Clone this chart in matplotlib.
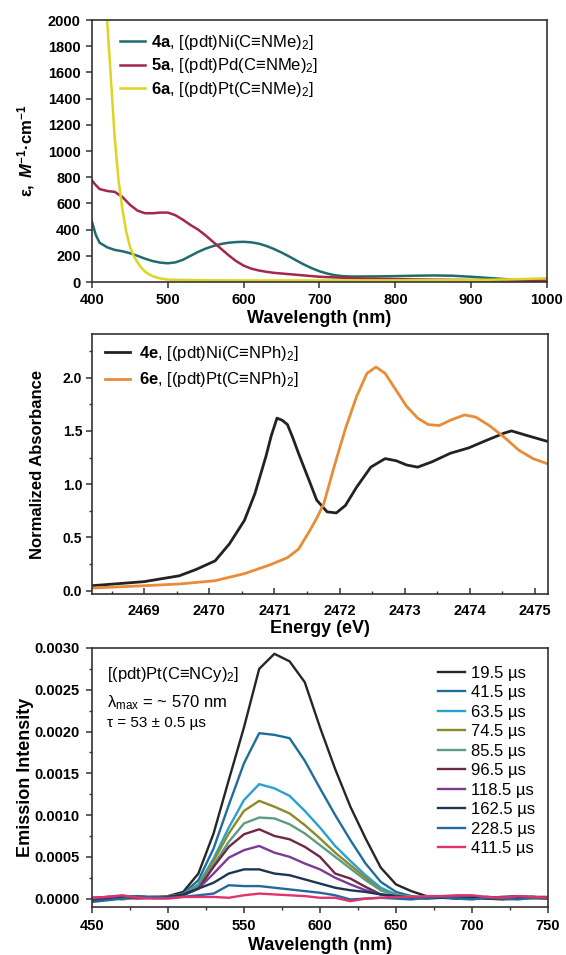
import matplotlib
matplotlib.use('Agg')
import matplotlib.pyplot as plt
from matplotlib.ticker import MultipleLocator, FormatStrFormatter

plt.rcParams['font.family'] = ['Liberation Sans', 'DejaVu Sans']
plt.rcParams['font.weight'] = 'bold'
plt.rcParams['mathtext.fontset'] = 'custom'
plt.rcParams['mathtext.rm'] = 'Liberation Sans:weight=normal'
plt.rcParams['mathtext.it'] = 'Liberation Sans:italic:weight=normal'
plt.rcParams['mathtext.bf'] = 'Liberation Sans:bold'
plt.rcParams['mathtext.bfit'] = 'Liberation Sans:italic:bold'

# ---------------- Panel 1: UV-vis ----------------
wl_ni = [400, 405, 410, 420, 430, 440, 450, 460, 470, 480, 490, 500, 510, 520, 530, 540, 550, 560,
         570, 580, 590, 600, 610, 620, 630, 640, 650, 660, 670, 680, 690, 700, 710, 720, 730, 740,
         750, 775, 800, 825, 850, 875, 900, 925, 950, 975, 1000]
eps_ni = [460, 360, 300, 265, 245, 235, 220, 200, 178, 160, 148, 143, 150, 170, 200, 230, 255, 275,
          290, 300, 305, 307, 303, 293, 275, 252, 225, 195, 163, 132, 105, 82, 65, 52, 45, 42,
          42, 43, 45, 48, 50, 48, 40, 30, 20, 13, 8]
wl_pd = [400, 405, 410, 420, 430, 440, 450, 460, 470, 480, 490, 500, 510, 520, 530, 540, 550, 560,
         570, 580, 590, 600, 610, 620, 630, 640, 650, 660, 670, 680, 690, 700, 750, 800, 850, 900,
         950, 1000]
eps_pd = [775, 740, 710, 695, 688, 650, 590, 545, 525, 525, 530, 530, 510, 475, 435, 400, 355, 305,
          255, 205, 160, 125, 102, 88, 78, 70, 65, 60, 55, 50, 45, 40, 28, 22, 18, 15,
          12, 10]
wl_pt = [400, 410, 420, 425, 430, 435, 440, 445, 450, 455, 460, 465, 470, 475, 480, 485, 490, 500,
         550, 600, 700, 800, 900, 950, 1000]
eps_pt = [5000, 3200, 2000, 1550, 1100, 780, 560, 390, 270, 200, 150, 110, 80, 60, 45, 35, 27, 18,
          13, 12, 12, 13, 15, 20, 28]
labels_uv = [r'$\mathbf{4a}$, [(pdt)Ni(C≡NMe)$_2$]',
             r'$\mathbf{5a}$, [(pdt)Pd(C≡NMe)$_2$]',
             r'$\mathbf{6a}$, [(pdt)Pt(C≡NMe)$_2$]']
colors_uv = ['#1f6b6e', '#a3284b', '#ddd523']

# ---------------- Panel 2: XAS ----------------
E_ni = [2468.2, 2469.0, 2469.54, 2469.8, 2470.09, 2470.31, 2470.54, 2470.7, 2470.87, 2470.95,
        2471.04, 2471.12, 2471.2, 2471.28, 2471.37, 2471.53, 2471.65, 2471.81, 2471.95, 2472.09,
        2472.26, 2472.48, 2472.7, 2472.87, 2473.03, 2473.2, 2473.42, 2473.7, 2473.98, 2474.25,
        2474.53, 2474.64, 2474.86, 2475.2]
A_ni = [0.047, 0.085, 0.14, 0.20, 0.28, 0.44, 0.66, 0.91, 1.26, 1.45,
        1.62, 1.60, 1.56, 1.44, 1.29, 1.04, 0.85, 0.74, 0.73, 0.80,
        0.97, 1.16, 1.24, 1.22, 1.18, 1.16, 1.21, 1.29, 1.34, 1.41,
        1.48, 1.50, 1.46, 1.40]
E_pt = [2468.2, 2469.0, 2469.54, 2470.09, 2470.54, 2470.92, 2471.2, 2471.37, 2471.53, 2471.65,
        2471.76, 2471.92, 2472.09, 2472.26, 2472.42, 2472.56, 2472.7, 2472.87, 2473.03, 2473.2,
        2473.36, 2473.53, 2473.7, 2473.92, 2474.09, 2474.3, 2474.53, 2474.75, 2474.97, 2475.2]
A_pt = [0.025, 0.047, 0.063, 0.094, 0.16, 0.24, 0.31, 0.39, 0.55, 0.68,
        0.82, 1.17, 1.52, 1.82, 2.04, 2.10, 2.04, 1.88, 1.73, 1.62,
        1.56, 1.55, 1.60, 1.65, 1.63, 1.55, 1.44, 1.32, 1.24, 1.19]
labels_xas = [r'$\mathbf{4e}$, [(pdt)Ni(C≡NPh)$_2$]',
              r'$\mathbf{6e}$, [(pdt)Pt(C≡NPh)$_2$]']
colors_xas = ['#222222', '#e88c38']

# ---------------- Panel 3: emission ----------------
wl_em = [450, 460, 470, 480, 490, 500, 510, 520, 530, 540, 550, 560, 570, 580, 590, 600,
         610, 620, 630, 640, 650, 660, 670, 680, 690, 700, 710, 720, 730, 740, 750]
em_19_5 = [0.00000, 0.00002, 0.00003, 0.00002, 0.00001, 0.00003, 0.00008, 0.00030, 0.00078, 0.00142,
           0.00205, 0.00275, 0.00293, 0.00284, 0.00259, 0.00205, 0.00155, 0.00110, 0.00072, 0.00037,
           0.00017, 0.00009, 0.00003, 0.00002, 0.00003, 0.00002, 0.00001, 0.00002, 0.00003, 0.00002, 0.00002]
em_41_5 = [-0.00002, 0.00000, 0.00002, 0.00003, 0.00001, 0.00002, 0.00006, 0.00022, 0.00060, 0.00112,
           0.00162, 0.00198, 0.00196, 0.00192, 0.00165, 0.00132, 0.00100, 0.00070, 0.00042, 0.00020,
           0.00008, 0.00003, 0.00001, 0.00002, 0.00000, 0.00001, 0.00002, 0.00000, 0.00001, 0.00002, 0.00001]
em_63_5 = [-0.00001, 0.00001, 0.00002, 0.00001, 0.00002, 0.00002, 0.00005, 0.00017, 0.00048, 0.00085,
           0.00118, 0.00137, 0.00132, 0.00123, 0.00105, 0.00085, 0.00063, 0.00045, 0.00028, 0.00013,
           0.00005, 0.00002, 0.00001, 0.00002, 0.00001, 0.00002, 0.00001, 0.00000, 0.00001, 0.00002, 0.00001]
em_74_5 = [0.00000, 0.00001, -0.00001, 0.00001, 0.00002, 0.00003, 0.00005, 0.00015, 0.00045, 0.00078,
           0.00105, 0.00117, 0.00110, 0.00102, 0.00088, 0.00072, 0.00055, 0.00040, 0.00025, 0.00010,
           0.00004, 0.00002, 0.00001, 0.00001, 0.00002, 0.00001, 0.00001, 0.00002, 0.00001, 0.00000, 0.00001]
em_85_5 = [0.00001, 0.00000, 0.00002, 0.00001, 0.00001, 0.00002, 0.00005, 0.00014, 0.00040, 0.00068,
           0.00090, 0.00097, 0.00096, 0.00089, 0.00078, 0.00064, 0.00050, 0.00036, 0.00022, 0.00010,
           0.00004, 0.00002, 0.00001, 0.00001, 0.00001, 0.00002, 0.00001, 0.00001, 0.00002, 0.00001, 0.00001]
em_96_5 = [0.00000, 0.00001, 0.00002, 0.00000, 0.00001, 0.00002, 0.00004, 0.00012, 0.00038, 0.00062,
           0.00077, 0.00083, 0.00075, 0.00071, 0.00062, 0.00050, 0.00030, 0.00024, 0.00014, 0.00005,
           0.00003, 0.00001, 0.00001, 0.00002, 0.00001, 0.00001, 0.00002, 0.00001, 0.00001, 0.00002, 0.00001]
em_118_5 = [0.00001, 0.00002, 0.00001, 0.00001, 0.00002, 0.00002, 0.00004, 0.00012, 0.00030, 0.00049,
            0.00058, 0.00063, 0.00055, 0.00050, 0.00042, 0.00035, 0.00025, 0.00017, 0.00010, 0.00005,
            0.00002, 0.00001, 0.00001, 0.00002, 0.00001, 0.00001, 0.00000, 0.00001, 0.00002, 0.00001, 0.00001]
em_162_5 = [-0.00003, -0.00001, 0.00001, 0.00002, 0.00001, 0.00002, 0.00005, 0.00012, 0.00019, 0.00030,
            0.00035, 0.00035, 0.00030, 0.00028, 0.00023, 0.00018, 0.00013, 0.00010, 0.00008, 0.00005,
            0.00003, 0.00001, 0.00000, 0.00001, 0.00000, 0.00001, 0.00000, -0.00001, 0.00000, 0.00001, 0.00000]
em_228_5 = [-0.00004, -0.00002, 0.00000, 0.00003, 0.00002, 0.00001, 0.00002, 0.00004, 0.00006, 0.00016,
            0.00015, 0.00015, 0.00013, 0.00011, 0.00009, 0.00007, 0.00004, -0.00001, 0.00000, 0.00001,
            0.00000, -0.00001, 0.00001, 0.00002, 0.00000, -0.00001, 0.00001, 0.00000, -0.00001, 0.00001, 0.00000]
em_411_5 = [0.00001, 0.00002, 0.00004, 0.00001, 0.00000, 0.00000, 0.00002, 0.00002, 0.00002, 0.00001,
            0.00004, 0.00006, 0.00005, 0.00004, 0.00003, 0.00001, 0.00001, -0.00003, 0.00000, 0.00001,
            0.00002, 0.00002, 0.00003, 0.00003, 0.00004, 0.00004, 0.00002, 0.00001, 0.00003, 0.00002, 0.00001]
em_series = [em_19_5, em_41_5, em_63_5, em_74_5, em_85_5, em_96_5, em_118_5, em_162_5, em_228_5, em_411_5]
em_labels = ['19.5 µs', '41.5 µs', '63.5 µs', '74.5 µs', '85.5 µs', '96.5 µs',
             '118.5 µs', '162.5 µs', '228.5 µs', '411.5 µs']
em_colors = ['#262626', '#1f6d9c', '#2aa0d2', '#8a8a2a', '#5b9c84', '#6e2845',
             '#7b3a95', '#1c3550', '#2567a0', '#e0336b']

SPINE = '#333333'

fig = plt.figure(figsize=(5.66, 9.55), dpi=100)
ax1 = fig.add_axes([0.1625, 0.7047, 0.8039, 0.2743])
ax2 = fig.add_axes([0.1625, 0.378, 0.8057, 0.2723])
ax3 = fig.add_axes([0.1625, 0.0503, 0.8057, 0.2712])

for ax in (ax1, ax2, ax3):
    for s in ax.spines.values():
        s.set_color(SPINE)
        s.set_linewidth(1.2)

# Panel 1
for x, y, c, l in zip([wl_ni, wl_pd, wl_pt], [eps_ni, eps_pd, eps_pt], colors_uv, labels_uv):
    ax1.plot(x, y, color=c, lw=1.8, label=l)
ax1.set_xlim(400, 1000)
ax1.set_ylim(0, 2000)
ax1.xaxis.set_major_locator(MultipleLocator(100))
ax1.yaxis.set_major_locator(MultipleLocator(200))
ax1.tick_params(direction='out', length=4, width=1.1, pad=4, labelsize=10.5, color=SPINE)
ax1.set_xlabel('Wavelength (nm)', fontsize=13, fontweight='bold')
ax1.set_ylabel(r'$\mathbf{ε,\ }\mathbfit{M}^{\mathbf{-1}}\mathbf{·cm}^{\mathbf{-1}}$', fontsize=12)
ax1.xaxis.set_label_coords(0.5, -0.105)
ax1.yaxis.set_label_coords(-0.12, 0.5)
ax1.legend(loc='upper left', bbox_to_anchor=(0.0615, 0.952), frameon=False, borderpad=0,
           borderaxespad=0, handlelength=1.5, handletextpad=0.35, labelspacing=0.29,
           prop={'size': 12, 'weight': 'normal'})

# Panel 2
for x, y, c, l in zip([E_ni, E_pt], [A_ni, A_pt], colors_xas, labels_xas):
    ax2.plot(x, y, color=c, lw=2.0, label=l)
ax2.set_xlim(2468.2, 2475.2)
ax2.set_ylim(-0.031, 2.41)
ax2.xaxis.set_major_locator(MultipleLocator(1))
ax2.xaxis.set_minor_locator(MultipleLocator(0.5))
ax2.yaxis.set_major_locator(MultipleLocator(0.5))
ax2.yaxis.set_minor_locator(MultipleLocator(0.25))
ax2.yaxis.set_major_formatter(FormatStrFormatter('%.1f'))
ax2.xaxis.set_major_formatter(FormatStrFormatter('%d'))
ax2.tick_params(axis='x', which='major', direction='in', length=4, width=1.1, pad=7, labelsize=10.5, color=SPINE)
ax2.tick_params(axis='x', which='minor', direction='in', length=2.5, width=1.0, color=SPINE)
ax2.tick_params(axis='y', which='major', direction='out', length=4, width=1.1, pad=3, labelsize=10, color=SPINE)
ax2.tick_params(axis='y', which='minor', direction='out', length=2.5, width=1.0, color=SPINE)
ax2.set_xlabel('Energy (eV)', fontsize=13, fontweight='bold')
ax2.set_ylabel('Normalized Absorbance', fontsize=12, fontweight='bold')
ax2.xaxis.set_label_coords(0.5, -0.1)
ax2.yaxis.set_label_coords(-0.103, 0.5)
ax2.legend(loc='upper left', bbox_to_anchor=(0.029, 0.963), frameon=False, borderpad=0,
           borderaxespad=0, handlelength=1.5, handletextpad=0.55, labelspacing=0.47,
           prop={'size': 12, 'weight': 'normal'})

# Panel 3
for y, c, l in zip(em_series, em_colors, em_labels):
    ax3.plot(wl_em, y, color=c, lw=1.7, label=l)
ax3.set_xlim(450, 750)
ax3.set_ylim(-0.0001, 0.003)
ax3.xaxis.set_major_locator(MultipleLocator(50))
ax3.xaxis.set_minor_locator(MultipleLocator(25))
ax3.yaxis.set_major_locator(MultipleLocator(0.0005))
ax3.yaxis.set_minor_locator(MultipleLocator(0.00025))
ax3.yaxis.set_major_formatter(FormatStrFormatter('%.4f'))
ax3.tick_params(which='major', direction='out', length=4, width=1.1, pad=5, labelsize=10.5, color=SPINE)
ax3.tick_params(which='minor', direction='out', length=2.5, width=1.0, color=SPINE)
ax3.set_xlabel('Wavelength (nm)', fontsize=13, fontweight='bold')
ax3.set_ylabel('Emission Intensity', fontsize=13, fontweight='bold')
ax3.xaxis.set_label_coords(0.5, -0.116)
ax3.yaxis.set_label_coords(-0.127, 0.5)
ax3.legend(loc='upper left', bbox_to_anchor=(0.759, 0.932), frameon=False, borderpad=0,
           borderaxespad=0, handlelength=1.6, handletextpad=0.4, labelspacing=0.27,
           prop={'size': 12, 'weight': 'normal'})
ax3.text(0.033, 0.896, r'[(pdt)Pt(C≡NCy)$_2$]', transform=ax3.transAxes, fontsize=12,
         fontweight='normal', va='center', ha='left')
ax3.text(0.033, 0.789, r'λ$_{\mathrm{max}}$ = ~ 570 nm', transform=ax3.transAxes, fontsize=12,
         fontweight='normal', va='center', ha='left')
ax3.text(0.033, 0.712, 'τ = 53 ± 0.5 µs', transform=ax3.transAxes, fontsize=11,
         fontweight='normal', va='center', ha='left')

fig.savefig('out.png', dpi=100)
